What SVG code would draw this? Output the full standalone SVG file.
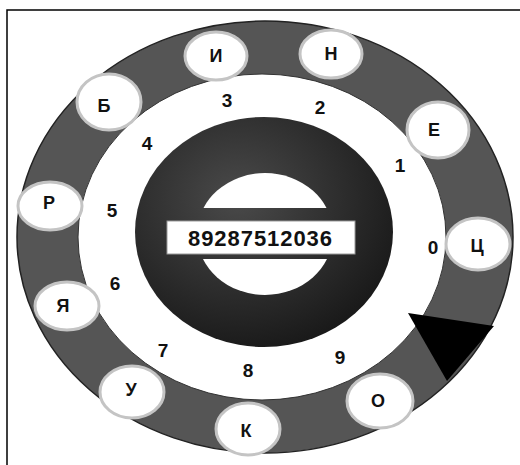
<svg xmlns="http://www.w3.org/2000/svg" width="520" height="465" viewBox="0 0 520 465">
<defs>
<radialGradient id="core" cx="0.4" cy="0.35" r="0.75">
<stop offset="0" stop-color="#4a4a4a"/>
<stop offset="1" stop-color="#141414"/>
</radialGradient>
<clipPath id="holeClip">
<rect x="150" y="160" width="230" height="48"/>
<rect x="150" y="259" width="230" height="50"/>
</clipPath>
</defs>
<style>
.frame{fill:none;stroke:#000;stroke-width:1.5}
.key{fill:#fff;stroke:#c4c4c4;stroke-width:3}
.lt{font-family:"Liberation Sans",Arial,sans-serif;font-weight:bold;font-size:18px;fill:#111;text-anchor:middle;dominant-baseline:central}
.num{font-family:"Liberation Sans",Arial,sans-serif;font-weight:bold;font-size:19px;fill:#111;text-anchor:middle;dominant-baseline:central}
.phone{font-size:22px}
</style>
<rect width="520" height="465" fill="#fff"/>
<path class="frame" d="M7,465 V10 H520"/>
<g id="dial">
<ellipse cx="265" cy="237" rx="248" ry="216" fill="#555" stroke="#222" stroke-width="1.5"/>
<ellipse cx="262" cy="237" rx="184" ry="163" fill="#fff" stroke="#333" stroke-width="1"/>
<ellipse cx="264" cy="232" rx="129" ry="115" fill="url(#core)"/>
<ellipse cx="265" cy="234" rx="68" ry="61" fill="#fff" clip-path="url(#holeClip)"/>
</g>
<g id="number-box">
<rect x="167" y="221" width="188" height="33" fill="#fff" stroke="#999" stroke-width="1"/>
<text class="num phone" x="260" y="238" textLength="144" lengthAdjust="spacing">89287512036</text>
</g>
<g id="digits">
<text class="num" x="227" y="100">3</text>
<text class="num" x="320" y="107">2</text>
<text class="num" x="147" y="143">4</text>
<text class="num" x="400" y="165">1</text>
<text class="num" x="112" y="210">5</text>
<text class="num" x="433" y="247">0</text>
<text class="num" x="115" y="283">6</text>
<text class="num" x="163" y="350">7</text>
<text class="num" x="248" y="370">8</text>
<text class="num" x="340" y="357">9</text>
</g>
<g id="key-I"><ellipse class="key" cx="216" cy="56" rx="31" ry="24"/><text class="lt" x="216" y="56">И</text></g>
<g id="key-N"><ellipse class="key" cx="331" cy="54" rx="31" ry="24"/><text class="lt" x="331" y="54">Н</text></g>
<g id="key-B"><ellipse class="key" cx="109" cy="102" rx="32" ry="28"/><text class="lt" x="104" y="106">Б</text></g>
<g id="key-E"><ellipse class="key" cx="438" cy="130" rx="31" ry="28"/><text class="lt" x="434" y="130">Е</text></g>
<g id="key-R"><ellipse class="key" cx="50" cy="206" rx="32" ry="24"/><text class="lt" x="49" y="203">Р</text></g>
<g id="key-Ts"><ellipse class="key" cx="478" cy="244" rx="32" ry="26"/><text class="lt" x="477" y="246">Ц</text></g>
<g id="key-Ya"><ellipse class="key" cx="67" cy="306" rx="32" ry="24"/><text class="lt" x="63" y="306">Я</text></g>
<g id="key-U"><ellipse class="key" cx="132" cy="392" rx="32" ry="26"/><text class="lt" x="131" y="390">У</text></g>
<g id="key-K"><ellipse class="key" cx="248" cy="429" rx="32" ry="26"/><text class="lt" x="246" y="431">К</text></g>
<g id="key-O"><ellipse class="key" cx="380" cy="401" rx="33" ry="27"/><text class="lt" x="378" y="401">О</text></g>
<g id="connectors">
<polygon points="408,313 494,326 447,381" fill="#000"/>
</g>
</svg>
